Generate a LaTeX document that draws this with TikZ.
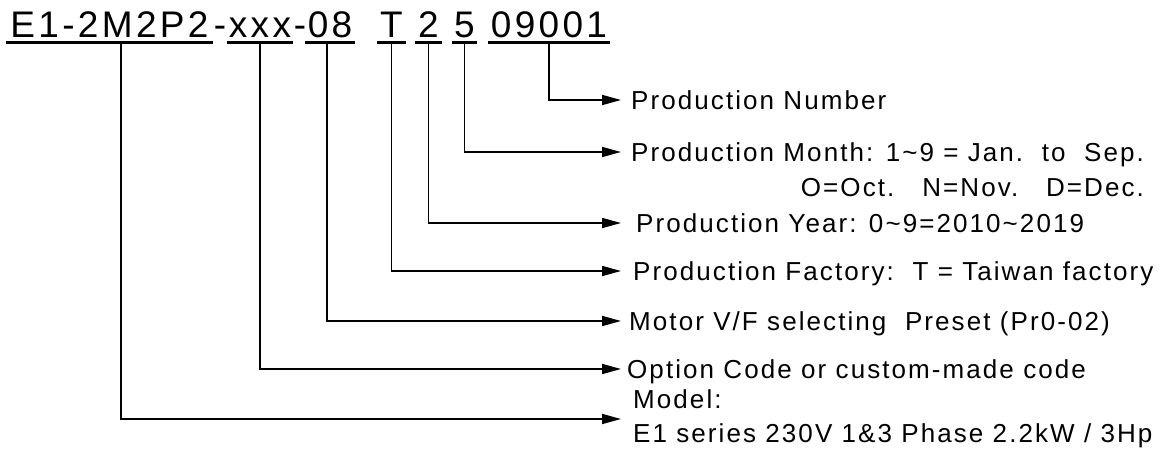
\documentclass[tikz,border=0pt]{standalone}
\usepackage{fontspec}
\setmainfont{Liberation Sans}
\newfontfamily\titlefont[LetterSpace=9]{Liberation Sans}
\newfontfamily\bodyfont[LetterSpace=8]{Liberation Sans}
\usetikzlibrary{arrows.meta}
\begin{document}
\begin{tikzpicture}[x=1pt,y=-1pt,
  conn/.style={line width=1.7pt},
  arr/.style={conn,-{Triangle[length=19pt,width=10pt]}},
  grp/.style={inner sep=0pt, anchor=base, text depth=5pt, font=\titlefont\fontsize{37pt}{40pt}\selectfont},
  uline/.style={line width=2.6pt},
  lbl/.style={anchor=west, inner ysep=0pt, text height=18.6pt, text depth=0pt, font=\bodyfont\fontsize{26pt}{34pt}\selectfont},
  lbltwo/.style={anchor=west, inner ysep=0pt, align=left, font=\bodyfont\fontsize{26pt}{34pt}\selectfont}]
\useasboundingbox (0,0) rectangle (1176,450);
% title groups
\node[grp, minimum width=207pt] (g1) at (109.5,37) {E1-2M2P2};
\node[grp] (d1) at (220,37) {-};
\node[grp, minimum width=66pt] (g2) at (260,37) {xxx};
\node[grp] (d2) at (300,37) {-};
\node[grp, minimum width=50pt] (g3) at (330,37) {08};
\node[grp, minimum width=29pt] (g4) at (391.5,37) {T};
\node[grp, minimum width=27pt] (g5) at (428.5,37) {2};
\node[grp, minimum width=25pt] (g6) at (464.5,37) {5};
\node[grp, minimum width=122pt] (g7) at (549,37) {09001};
\foreach \g in {g1,g2,g3,g4,g5,g6,g7}
  \draw[uline] (\g.south west) -- (\g.south east);
\coordinate (s1) at (121,42);
\coordinate (s3) at (327,42);
% labels
\node[lbl, inner xsep=10pt] (tNumber) at (621,100) {Production Number};
\node[lbl, inner xsep=10pt] (tMonth) at (621,152) {Production Month: 1\textasciitilde 9 = Jan.\ \ to\ \ Sep.};
\node[lbl, inner xsep=10pt, anchor=east] (tMonth2) at ([yshift=-35pt]tMonth.east) {O=Oct.\ \ \ N=Nov.\ \ \ D=Dec.};
\node[lbl, inner xsep=15pt] (tYear) at (621,223) {Production Year: 0\textasciitilde 9=2010\textasciitilde 2019};
\node[lbl, inner xsep=12pt] (tFactory) at (621,271) {Production Factory:\ \ T = Taiwan factory};
\node[lbl, inner xsep=8pt] (tMotor) at (621,321) {Motor V/F selecting\ \ Preset (Pr0-02)};
\node[lbl, inner xsep=6pt] (tOption) at (621,369) {Option Code or custom-made code};
\node[lbltwo, inner xsep=12pt] (tModel) at (621,419) {Model:\\E1 series 230V 1\&3 Phase 2.2kW / 3Hp};
% connectors
\draw[arr] (g7.south) |- (tNumber.west);
\draw[arr] (g6.south) |- (tMonth.west);
\draw[arr] (g5.south) |- (tYear.west);
\draw[arr] (g4.south) |- (tFactory.west);
\draw[arr] (s3) |- (tMotor.west);
\draw[arr] (g2.south) |- (tOption.west);
\draw[arr] (s1) |- (tModel.west);
\end{tikzpicture}
\end{document}
